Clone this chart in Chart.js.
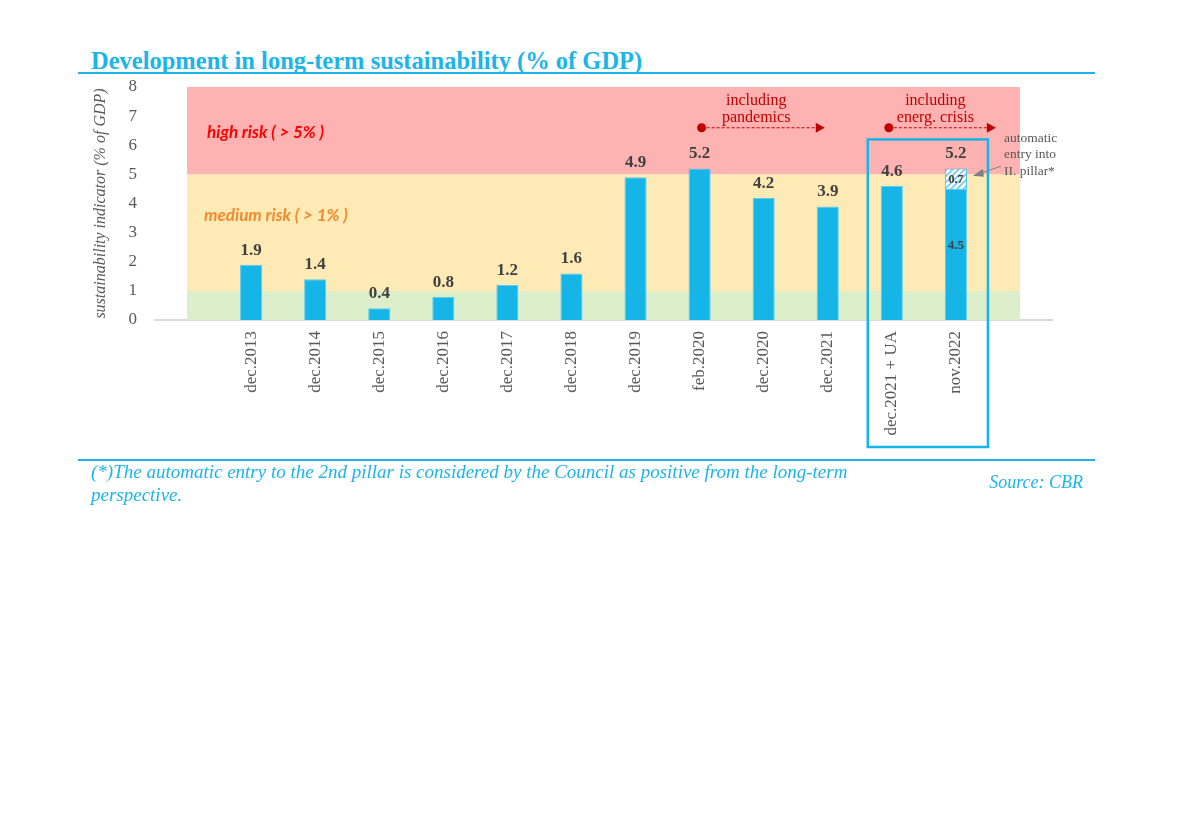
<!DOCTYPE html>
<html>
<head>
<meta charset="utf-8">
<script src="https://cdn.jsdelivr.net/npm/chart.js@4.4.0/dist/chart.umd.min.js"></script>
<style>
  html, body { margin: 0; padding: 0; background: #fff; }
  #wrap { position: relative; width: 1188px; height: 820px; }
  #chart { position: absolute; left: 0; top: 0; }
  .title { position: absolute; left: 91px; top: 47px; font: bold 24.5px "Liberation Serif", serif; color: #1db4e8; white-space: nowrap; }
  .rule { position: absolute; left: 78px; width: 1017px; height: 2px; background: #1db4e8; }
  .note { position: absolute; left: 91px; top: 460px; width: 770px; font: italic 19px "Liberation Serif", serif; color: #1db4e8; line-height: 23px; }
  .src { position: absolute; right: 105px; top: 472px; font: italic 18px "Liberation Serif", serif; color: #1db4e8; }
</style>
</head>
<body>
<div id="wrap">
  <div class="title">Development in long-term sustainability (% of GDP)</div>
  <div class="rule" style="top:72px"></div>
  <canvas id="chart" width="1188" height="820"></canvas>
  <div class="rule" style="top:459px;height:1.5px"></div>
  <div class="note">(*)The automatic entry to the 2nd pillar is considered by the Council as positive from the long-term perspective.</div>
  <div class="src">Source: CBR</div>
</div>
<script>
// categories (empty slots at both ends like the original)
const categories = ['', 'dec.2013', 'dec.2014', 'dec.2015', 'dec.2016', 'dec.2017', 'dec.2018',
  'dec.2019', 'feb.2020', 'dec.2020', 'dec.2021', 'dec.2021 + UA', 'nov.2022', ''];
// sustainability indicator
const indicator = [null, 1.9, 1.4, 0.4, 0.8, 1.2, 1.6, 4.9, 5.2, 4.2, 3.9, 4.6, 4.5, null];
// automatic entry into II. pillar
const pillarEffect = [null, null, null, null, null, null, null, null, null, null, null, null, 0.7, null];
// risk zone limits
const lowLimit = 1;
const mediumLimit = 5;
const axisMax = 8;
const yTicks = [0, 1, 2, 3, 4, 5, 6, 7, 8];

const serif = '"Liberation Serif", serif';
const blue = '#16b5e8';

const canvas = document.getElementById('chart');
const ctx = canvas.getContext('2d');

// hatched fill for the II. pillar part
function makeHatch() {
    const p = document.createElement('canvas');
    p.width = 6; p.height = 6;
    const g = p.getContext('2d');
    g.fillStyle = '#ffffff';
    g.fillRect(0, 0, 6, 6);
    g.strokeStyle = '#6fcbef';
    g.lineWidth = 1.6;
    g.beginPath();
    g.moveTo(0, 6); g.lineTo(6, 0);
    g.moveTo(-3, 3); g.lineTo(3, -3);
    g.moveTo(3, 9); g.lineTo(9, 3);
    g.stroke();
    return ctx.createPattern(p, 'repeat');
}

const band = v => categories.map(() => v);

// value labels above the bars
const valueLabels = {
    id: 'valueLabels',
    afterDatasetsDraw(chart) {
        const c = chart.ctx;
        const main = chart.getDatasetMeta(3);
        const extra = chart.getDatasetMeta(4);
        c.save();
        c.fillStyle = '#404040';
        c.textAlign = 'center';
        indicator.forEach((v, i) => {
            if (v === null) return;
            const bar = main.data[i];
            if (pillarEffect[i] !== null) {
                const top = extra.data[i];
                c.font = 'bold 17px ' + serif;
                c.textBaseline = 'bottom';
                c.fillText((v + pillarEffect[i]).toFixed(1), top.x, top.y - 6);
                c.font = 'bold 12px ' + serif;
                c.textBaseline = 'middle';
                c.fillText(pillarEffect[i].toFixed(1), top.x, (top.y + top.base) / 2 + 1);
                c.font = 'bold 13px ' + serif;
                c.fillText(v.toFixed(1), bar.x, bar.y + (bar.base - bar.y) * 0.43);
            } else {
                c.font = 'bold 17px ' + serif;
                c.textBaseline = 'bottom';
                c.fillText(v.toFixed(1), bar.x, bar.y - 6);
            }
        });
        c.restore();
    }
};

// zone texts, arrows, framing box
const notes = {
    id: 'notes',
    afterDraw(chart) {
        const c = chart.ctx;
        const xs = chart.scales.x, ys = chart.scales.y;
        const step = xs.getPixelForValue(1) - xs.getPixelForValue(0);
        c.save();

        c.font = 'italic bold 17px Lato, sans-serif';
        c.textAlign = 'left';
        c.textBaseline = 'middle';
        c.fillStyle = '#ff0000';
        c.fillText('high risk ( > 5% )', xs.getPixelForValue(0) + 20, ys.getPixelForValue(6.45));
        c.fillStyle = '#f28a2e';
        c.fillText('medium risk ( > 1% )', xs.getPixelForValue(0) + 17, ys.getPixelForValue(3.6));

        function period(x1, x2, lines) {
            const y = ys.getPixelForValue(6.6);
            c.fillStyle = '#c00000';
            c.strokeStyle = '#c00000';
            c.font = '16px ' + serif;
            c.textAlign = 'center';
            c.textBaseline = 'middle';
            const mid = (x1 + x2) / 2 - 7;
            c.fillText(lines[0], mid, y - 27);
            c.fillText(lines[1], mid, y - 10);
            c.beginPath();
            c.arc(x1, y, 4.5, 0, Math.PI * 2);
            c.fill();
            c.setLineDash([3, 2]);
            c.lineWidth = 1;
            c.beginPath();
            c.moveTo(x1, y); c.lineTo(x2 - 8, y);
            c.stroke();
            c.setLineDash([]);
            c.beginPath();
            c.moveTo(x2, y); c.lineTo(x2 - 9, y - 5); c.lineTo(x2 - 9, y + 5);
            c.closePath();
            c.fill();
        }
        period(xs.getPixelForValue(8) + 2, xs.getPixelForValue(10) - 3, ['including', 'pandemics']);
        period(xs.getPixelForValue(11) - 3, xs.getPixelForValue(12) + 40, ['including', 'energ. crisis']);

        // automatic entry note
        c.fillStyle = '#595959';
        c.font = '13.5px ' + serif;
        c.textAlign = 'left';
        c.textBaseline = 'middle';
        const nx = xs.getPixelForValue(12) + 48;
        c.fillText('automatic', nx, ys.getPixelForValue(6.25));
        c.fillText('entry into', nx, ys.getPixelForValue(5.67));
        c.fillText('II. pillar*', nx, ys.getPixelForValue(5.09));
        const ax = xs.getPixelForValue(12) + 17, ay = ys.getPixelForValue(4.95);
        c.strokeStyle = '#808080';
        c.fillStyle = '#808080';
        c.lineWidth = 1;
        c.beginPath();
        c.moveTo(nx - 3, ys.getPixelForValue(5.28)); c.lineTo(ax + 6, ay - 2);
        c.stroke();
        c.beginPath();
        c.moveTo(ax, ay); c.lineTo(ax + 10, ay - 7); c.lineTo(ax + 11, ay + 1);
        c.closePath();
        c.fill();

        // frame around the last two periods
        const left = xs.getPixelForValue(11) - step / 2 + 8;
        const right = xs.getPixelForValue(12) + step / 2;
        const top = ys.getPixelForValue(6.2);
        const bottom = chart.chartArea.bottom + 127;
        c.strokeStyle = blue;
        c.lineWidth = 2.5;
        c.strokeRect(left, top, right - left, bottom - top);
        c.restore();
    }
};

new Chart(ctx, {
    data: {
        labels: categories,
        datasets: [
            {
                type: 'line', yAxisID: 'yb', data: band(lowLimit), order: 10,
                fill: 'origin', backgroundColor: '#ddeecb', borderWidth: 0, pointRadius: 0
            },
            {
                type: 'line', yAxisID: 'yb', data: band(mediumLimit), order: 10,
                fill: '-1', backgroundColor: '#feeab4', borderWidth: 0, pointRadius: 0
            },
            {
                type: 'line', yAxisID: 'yb', data: band(axisMax), order: 10,
                fill: '-1', backgroundColor: '#ffb2b2', borderWidth: 0, pointRadius: 0
            },
            {
                type: 'bar', yAxisID: 'y', data: indicator, order: 1,
                backgroundColor: blue, borderColor: '#5ccaf0', borderWidth: 1,
                categoryPercentage: 0.5, barPercentage: 0.69
            },
            {
                type: 'bar', yAxisID: 'y', data: pillarEffect, order: 1,
                backgroundColor: makeHatch(), borderColor: '#3fbdea', borderWidth: 1,
                categoryPercentage: 0.5, barPercentage: 0.69
            }
        ]
    },
    options: {
        responsive: false,
        animation: false,
        layout: { padding: { left: 91, top: 87, right: 136, bottom: 360 } },
        plugins: { legend: { display: false }, tooltip: { enabled: false } },
        scales: {
            x: {
                stacked: true,
                grid: { display: false, drawTicks: false },
                border: { display: true, color: '#d9d9d9', width: 2 },
                ticks: {
                    autoSkip: false, minRotation: 90, maxRotation: 90, padding: 11,
                    color: '#595959', font: { family: serif, size: 17 }
                },
                afterFit: s => { s.height = 140; }
            },
            y: {
                stacked: true,
                min: 0, max: axisMax,
                afterBuildTicks: s => { s.ticks = yTicks.map(v => ({ value: v })); },
                grid: { display: false, drawTicks: false },
                border: { display: false },
                ticks: { padding: 18, color: '#595959', font: { family: serif, size: 17 } },
                title: {
                    display: true, text: 'sustainability indicator (% of GDP)', color: '#595959',
                    font: { family: serif, size: 16, style: 'italic' }, padding: 0
                },
                afterFit: s => { s.width = 64; }
            },
            yb: { display: false, min: 0, max: axisMax }
        }
    },
    plugins: [valueLabels, notes]
});
</script>
</body>
</html>
